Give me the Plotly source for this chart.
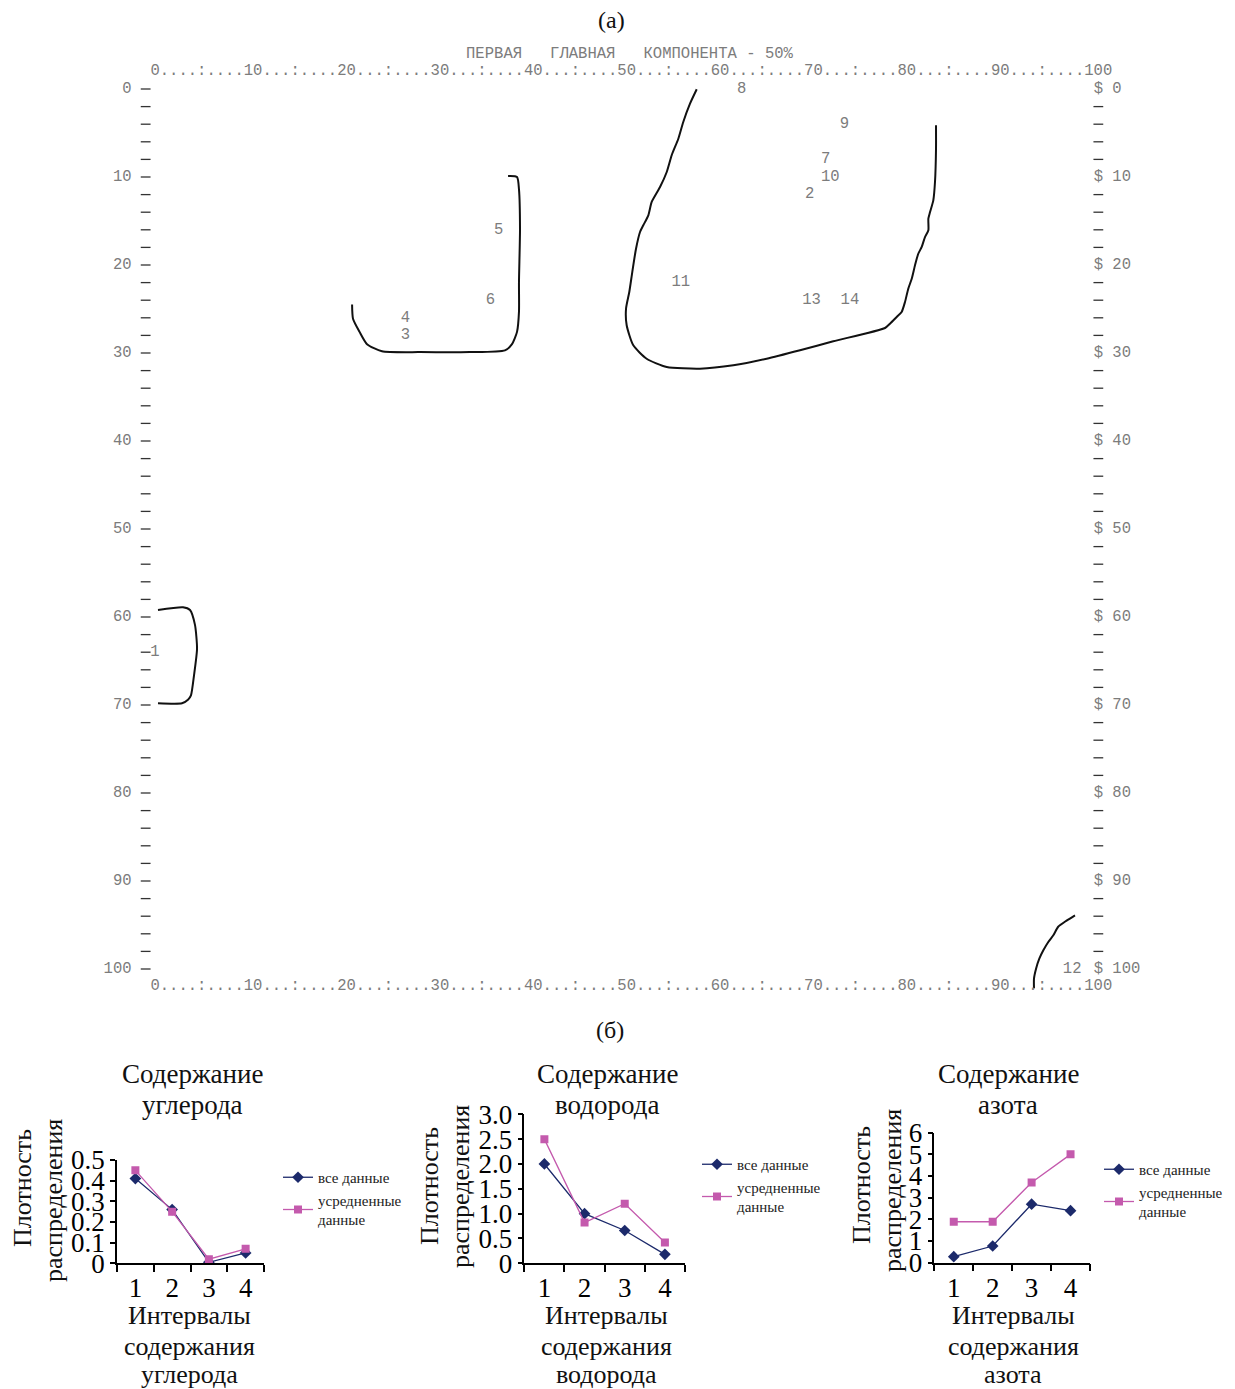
import plotly.graph_objects as go

W, H = 1235, 1389
OFF = 8  # page body offset compensation (px)

# ---------------- Panel (a): principal-component line-printer map ----------------
ruler_text = "0....:....10...:....20...:....30...:....40...:....50...:....60...:....70...:....80...:....90...:....100"
header_text = "ПЕРВАЯ\u00a0\u00a0\u00a0ГЛАВНАЯ\u00a0\u00a0\u00a0КОМПОНЕНТА\u00a0-\u00a050%"
row_label_vals = [0, 10, 20, 30, 40, 50, 60, 70, 80, 90, 100]
row_label_text = ["0", "10", "20", "30", "40", "50", "60", "70", "80", "90", "100"]
dash_rows = list(range(0, 101, 2))

point_labels = ["8", "9", "7", "10", "2", "5", "11", "6", "13", "14", "4", "3", "1", "12"]
point_col = [62.8, 73.8, 71.8, 72.3, 70.1, 36.8, 56.3, 35.9, 70.3, 74.4, 26.8, 26.8, 0.0, 98.2]
point_row = [0, 4, 8, 10, 12, 16, 22, 24, 24, 24, 26, 28, 64, 100]

curve1_x = [0.32, 3.0, 3.75, 4.28, 4.5, 4.18, 3.85, 3.53, 2.89, 0.32]
curve1_y = [59.2, 58.9, 59.2, 60.9, 63.6, 66.6, 68.9, 69.4, 69.8, 69.8]

curve2_x = [37.8, 38.76, 38.97, 39.08, 38.97, 38.97, 38.76, 38.22, 37.47, 33.7, 28.4, 24.3, 22.7, 21.9, 21.2, 21.1]
curve2_y = [9.9, 10.0, 11.4, 15.9, 21.9, 25.3, 27.6, 29.0, 29.7, 29.9, 29.9, 29.8, 29.0, 27.6, 26.1, 24.5]

curve3_x = [58.0, 57.28, 56.56, 56.03, 55.32, 54.79, 54.07, 53.18, 52.82, 52.28, 51.93, 51.5, 51.1,
            50.78, 50.43, 50.5, 51.21, 52.64, 54.79, 58.35, 61.92, 65.49, 69.06, 72.62, 78.16, 78.69,
            79.41, 79.94, 80.3, 80.65, 81.02, 81.37, 81.72, 82.09, 82.44, 82.8, 82.8, 82.98, 83.33,
            83.51, 83.62, 83.62]
curve3_y = [0.03, 1.67, 3.75, 5.65, 7.53, 9.43, 11.14, 12.84, 14.35, 15.49, 16.25, 18.15, 20.8,
            23.07, 24.97, 26.85, 29.13, 30.65, 31.59, 31.78, 31.4, 30.65, 29.69, 28.67, 27.16, 26.67,
            25.91, 25.34, 24.2, 22.69, 21.56, 20.03, 18.72, 17.95, 16.82, 16.06, 14.74, 13.98, 12.65,
            10.57, 6.78, 4.13]

curve4_x = [98.5, 97.6, 96.7, 96.18, 95.64, 95.11, 94.68, 94.33, 94.11, 94.11]
curve4_y = [93.9, 94.5, 95.2, 96.17, 96.93, 97.88, 98.83, 99.97, 101.1, 102.2]

# ---------------- Panel (б): distribution densities ----------------
intervals = ["1", "2", "3", "4"]
carbon_all = [0.41, 0.26, 0.005, 0.05]
carbon_avg = [0.45, 0.25, 0.02, 0.07]
hydrogen_all = [2.0, 1.0, 0.66, 0.18]
hydrogen_avg = [2.5, 0.82, 1.2, 0.42]
nitrogen_all = [0.28, 0.77, 2.7, 2.4]
nitrogen_avg = [1.89, 1.89, 3.7, 5.0]

carbon_ticks = [0, 0.1, 0.2, 0.3, 0.4, 0.5]
carbon_ticktext = ["0", "0.1", "0.2", "0.3", "0.4", "0.5"]
hydrogen_ticks = [0, 0.5, 1.0, 1.5, 2.0, 2.5, 3.0]
hydrogen_ticktext = ["0", "0.5", "1.0", "1.5", "2.0", "2.5", "3.0"]
nitrogen_ticks = [0, 1, 2, 3, 4, 5, 6]
nitrogen_ticktext = ["0", "1", "2", "3", "4", "5", "6"]

name_all = "все данные"
name_avg = "усредненные<br>данные"

NAVY = "#1c2a6b"
MAGENTA = "#c45aad"
GRAY = "#7c7c7c"
MONO = "Liberation Mono, Courier New, monospace"
SERIF = "Liberation Serif, Times New Roman, serif"
MONO_SIZE = 15.57


def fx(p):
    return (p - OFF) / W


def fy(p):
    return 1 - (p - OFF) / H


fig = go.Figure()

# ---- panel (a) traces ----
for cx, cy in [(curve1_x, curve1_y), (curve2_x, curve2_y), (curve3_x, curve3_y), (curve4_x, curve4_y)]:
    fig.add_trace(go.Scatter(x=cx, y=cy, mode="lines", line=dict(color="#111111", width=2, shape="spline", smoothing=0.6),
                             showlegend=False, hoverinfo="skip", xaxis="x", yaxis="y"))

text_kw = dict(mode="text", showlegend=False, hoverinfo="skip", xaxis="x", yaxis="y",
               textfont=dict(family=MONO, size=MONO_SIZE, color=GRAY), textposition="middle center")

# rulers (string spans columns 0..102, centre at 51)
fig.add_trace(go.Scatter(x=[51, 51], y=[-2, 102], text=[ruler_text, ruler_text], **text_kw))
# header
fig.add_trace(go.Scatter(x=[50.8], y=[-4], text=[header_text], **text_kw))
# left labels (3 chars, columns -5..-3)
left_txt = [("\u00a0" * (3 - len(t))) + t for t in row_label_text]
fig.add_trace(go.Scatter(x=[-4] * len(row_label_vals), y=row_label_vals, text=left_txt, **text_kw))
# right "$" and labels (labels start at column 103)
fig.add_trace(go.Scatter(x=[101] * len(row_label_vals), y=row_label_vals, text=["$"] * len(row_label_vals), **text_kw))
right_txt = [t + ("\u00a0" * (3 - len(t))) for t in row_label_text]
fig.add_trace(go.Scatter(x=[104] * len(row_label_vals), y=row_label_vals, text=right_txt, **text_kw))
# dashes
fig.add_trace(go.Scatter(x=[-1] * len(dash_rows), y=dash_rows, mode="markers",
                         marker=dict(symbol="line-ew", size=7, line=dict(width=1.3, color="#333333")),
                         showlegend=False, hoverinfo="skip", xaxis="x", yaxis="y"))
right_dash_rows = [r for r in dash_rows if r % 10 != 0]
fig.add_trace(go.Scatter(x=[101] * len(right_dash_rows), y=right_dash_rows, mode="markers",
                         marker=dict(symbol="line-ew", size=7, line=dict(width=1.3, color="#333333")),
                         showlegend=False, hoverinfo="skip", xaxis="x", yaxis="y"))
# point labels
fig.add_trace(go.Scatter(x=point_col, y=point_row, text=point_labels, **text_kw))

# ---- panel (б) traces ----
panels = [
    ("x2", "y2", "legend", carbon_all, carbon_avg),
    ("x3", "y3", "legend2", hydrogen_all, hydrogen_avg),
    ("x4", "y4", "legend3", nitrogen_all, nitrogen_avg),
]
for xa, ya, lg, a, b in panels:
    fig.add_trace(go.Scatter(x=intervals, y=a, mode="lines+markers", name=name_all, legend=lg,
                             line=dict(color=NAVY, width=1.3),
                             marker=dict(symbol="diamond", size=9, color=NAVY),
                             xaxis=xa, yaxis=ya, hoverinfo="skip"))
    fig.add_trace(go.Scatter(x=intervals, y=b, mode="lines+markers", name=name_avg, legend=lg,
                             line=dict(color=MAGENTA, width=1.3),
                             marker=dict(symbol="square", size=8, color=MAGENTA),
                             xaxis=xa, yaxis=ya, hoverinfo="skip"))

hidden = dict(visible=False, showgrid=False, zeroline=False)


def small_x(domain, anchor):
    return dict(domain=domain, anchor=anchor, type="category", range=[-0.5, 3.5],
                tickson="boundaries", ticks="outside", ticklen=7, tickwidth=1.5, tickcolor="black",
                showline=True, linecolor="black", linewidth=1.5, showgrid=False, zeroline=False,
                automargin=False, tickfont=dict(family=SERIF, size=27, color="black"))


def small_y(domain, anchor, rng, tv, tt):
    return dict(domain=domain, anchor=anchor, range=rng, tickvals=tv, ticktext=tt,
                ticks="outside", ticklen=5, tickwidth=1.5, tickcolor="black",
                showline=True, linecolor="black", linewidth=1.5, showgrid=False, zeroline=False,
                automargin=False, tickfont=dict(family=SERIF, size=27, color="black"))


legend_common = dict(font=dict(family=SERIF, size=15, color="#222222"), bgcolor="rgba(0,0,0,0)",
                     xanchor="left", yanchor="top", tracegroupgap=3, itemwidth=30)

fig.update_layout(
    width=W, height=H, autosize=False,
    margin=dict(l=0, r=0, t=0, b=0, pad=0, autoexpand=False),
    paper_bgcolor="white", plot_bgcolor="rgba(0,0,0,0)",
    font=dict(family=SERIF, color="black"),
    xaxis=dict(domain=[fx(100), fx(1140)], range=[-5.889, 105.46], **hidden),
    yaxis=dict(domain=[fy(1002), fy(42)], range=[103.75, -5.341], **hidden),
    xaxis2=small_x([fx(117), fx(264)], "y2"),
    yaxis2=small_y([fy(1263.3), fy(1160)], "x2", [0, 0.5], carbon_ticks, carbon_ticktext),
    xaxis3=small_x([fx(524.3), fx(685)], "y3"),
    yaxis3=small_y([fy(1263.3), fy(1114.3)], "x3", [0, 3.0], hydrogen_ticks, hydrogen_ticktext),
    xaxis4=small_x([fx(934.3), fx(1090)], "y4"),
    yaxis4=small_y([fy(1262.7), fy(1132.7)], "x4", [0, 6], nitrogen_ticks, nitrogen_ticktext),
    legend=dict(x=fx(278), y=fy(1161), **legend_common),
    legend2=dict(x=fx(697), y=fy(1148), **legend_common),
    legend3=dict(x=fx(1099), y=fy(1153), **legend_common),
)

# (text, x px, y px, angle, size)
annos = [
    ("(a)", 611, 20, 0, 24),
    ("(б)", 610, 1030, 0, 24),
    ("Содержание", 192, 1074, 0, 27), ("углерода", 192, 1105, 0, 27),
    ("Содержание", 607, 1074, 0, 27), ("водорода", 607, 1105, 0, 27),
    ("Содержание", 1008, 1074, 0, 27), ("азота", 1008, 1105, 0, 27),
    ("Плотность", 22, 1188, -90, 26), ("распределения", 53, 1200, -90, 26),
    ("Плотность", 429, 1186, -90, 26), ("распределения", 460, 1187, -90, 26),
    ("Плотность", 861, 1185, -90, 26), ("распределения", 892, 1191, -90, 26),
    ("Интервалы", 189, 1315, 0, 26), ("содержания", 189, 1346, 0, 26), ("углерода", 189, 1374, 0, 26),
    ("Интервалы", 606, 1315, 0, 26), ("содержания", 606, 1346, 0, 26), ("водорода", 606, 1374, 0, 26),
    ("Интервалы", 1013, 1315, 0, 26), ("содержания", 1013, 1346, 0, 26), ("азота", 1013, 1374, 0, 26),
]
for txt, px, py, ang, sz in annos:
    fig.add_annotation(text=txt, x=fx(px), y=fy(py), xref="paper", yref="paper",
                       xanchor="center", yanchor="middle", showarrow=False, textangle=ang,
                       font=dict(family=SERIF, size=sz, color="#111111"), align="center")

fig.write_html("out.html")
